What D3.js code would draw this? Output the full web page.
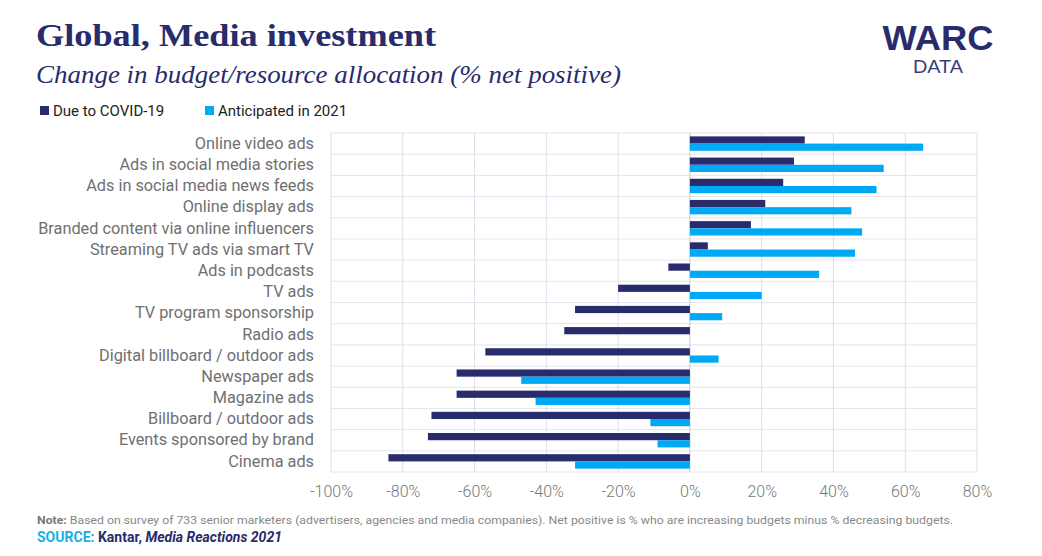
<!DOCTYPE html>
<html>
<head>
<meta charset="utf-8">
<script src="https://cdn.jsdelivr.net/npm/d3@7"></script>
<style>
  html, body { margin: 0; padding: 0; background: #fff; }
  svg { display: block; }
</style>
</head>
<body>
<svg id="chart" width="1042" height="556"></svg>
<script>
const categories = [
  "Online video ads",
  "Ads in social media stories",
  "Ads in social media news feeds",
  "Online display ads",
  "Branded content via online influencers",
  "Streaming TV ads via smart TV",
  "Ads in podcasts",
  "TV ads",
  "TV program sponsorship",
  "Radio ads",
  "Digital billboard / outdoor ads",
  "Newspaper ads",
  "Magazine ads",
  "Billboard / outdoor ads",
  "Events sponsored by brand",
  "Cinema ads"
];
const covidValues = [32, 29, 26, 21, 17, 5, -6, -20, -32, -35, -57, -65, -65, -72, -73, -84];
const anticipatedValues = [65, 54, 52, 45, 48, 46, 36, 20, 9, 0, 8, -47, -43, -11, -9, -32];
const seriesNames = ["Due to COVID-19", "Anticipated in 2021"];
const tickValues = [-100, -80, -60, -40, -20, 0, 20, 40, 60, 80];

const NAVY = "#282b6c";
const BLUE = "#00a9f4";
const colors = [NAVY, BLUE];

const svg = d3.select("#chart");

const x = d3.scaleLinear().domain([-100, 80]).range([331, 977]);
const y = d3.scaleBand().domain(categories).range([133, 472]).paddingInner(0.32).paddingOuter(0.16);
const ySub = d3.scaleBand().domain(seriesNames).range([0, y.bandwidth()]);
const yRow = d3.scaleBand().domain(categories).range([133, 472]);

const grid = svg.append("g");
grid.selectAll("line.h")
  .data(categories.concat(["__end"]))
  .join("line")
  .attr("x1", x(-100)).attr("x2", x(80))
  .attr("y1", (d, i) => i < categories.length ? yRow(d) : yRow.range()[1])
  .attr("y2", (d, i) => i < categories.length ? yRow(d) : yRow.range()[1])
  .attr("stroke", "#e4e4ee").attr("stroke-width", 1);
grid.selectAll("line.v")
  .data(tickValues)
  .join("line")
  .attr("x1", d => x(d)).attr("x2", d => x(d))
  .attr("y1", 133).attr("y2", 472)
  .attr("stroke", d => d === 0 ? "#c8c8d0" : "#dedeea").attr("stroke-width", 1);

const series = [covidValues, anticipatedValues];
series.forEach((vals, si) => {
  svg.append("g").selectAll("rect")
    .data(vals)
    .join("rect")
    .attr("x", d => x(Math.min(0, d)))
    .attr("width", d => Math.abs(x(d) - x(0)))
    .attr("y", (d, i) => y(categories[i]) + ySub(seriesNames[si]))
    .attr("height", ySub.bandwidth())
    .attr("fill", colors[si]);
});

const yAxis = d3.axisLeft(yRow).tickSize(0).tickPadding(17);
const yG = svg.append("g").attr("transform", `translate(${x(-100)},0)`).call(yAxis);
yG.select(".domain").remove();
yG.selectAll("text")
  .attr("font-family", "Roboto, 'Noto Sans', sans-serif")
  .attr("font-size", "16.3px")
  .attr("fill", "#707070");

const xAxis = d3.axisBottom(x).tickValues(tickValues).tickSize(0).tickPadding(14)
  .tickFormat(d => d + "%");
const xG = svg.append("g").attr("transform", `translate(0,${472})`).call(xAxis);
xG.select(".domain").remove();
xG.selectAll("text")
  .attr("font-family", "Roboto, sans-serif")
  .attr("font-weight", 300)
  .attr("font-size", "16px")
  .attr("fill", "#777");

svg.append("text")
  .attr("x", 36).attr("y", 46)
  .attr("font-family", "'Liberation Serif', 'DejaVu Serif', serif")
  .attr("font-weight", "bold")
  .attr("font-size", "32px")
  .attr("fill", NAVY)
  .attr("textLength", 400).attr("lengthAdjust", "spacingAndGlyphs")
  .text("Global, Media investment");

svg.append("text")
  .attr("x", 36).attr("y", 83)
  .attr("font-family", "'Liberation Serif', 'DejaVu Serif', serif")
  .attr("font-style", "italic")
  .attr("font-size", "26px")
  .attr("fill", NAVY)
  .attr("textLength", 585).attr("lengthAdjust", "spacingAndGlyphs")
  .text("Change in budget/resource allocation (% net positive)");

const legendX = [40, 205];
seriesNames.forEach((name, i) => {
  const g = svg.append("g").attr("transform", `translate(${legendX[i]},104)`);
  g.append("rect").attr("x", 0).attr("y", 2).attr("width", 9).attr("height", 9).attr("fill", colors[i]);
  g.append("text").attr("x", 13).attr("y", 11.5)
    .attr("font-family", "Roboto, sans-serif")
    .attr("font-size", "15px")
    .attr("fill", "#222")
    .text(name);
});

svg.append("text")
  .attr("x", 938).attr("y", 50)
  .attr("text-anchor", "middle")
  .attr("font-family", "'Liberation Sans', Arial, sans-serif")
  .attr("font-weight", "bold")
  .attr("font-size", "35px")
  .attr("fill", NAVY)
  .attr("textLength", 111).attr("lengthAdjust", "spacingAndGlyphs")
  .text("WARC");
svg.append("text")
  .attr("x", 938).attr("y", 72.5)
  .attr("text-anchor", "middle")
  .attr("font-family", "'Liberation Sans', Arial, sans-serif")
  .attr("font-size", "18px")
  .attr("fill", "#3b3e76")
  .attr("textLength", 50).attr("lengthAdjust", "spacingAndGlyphs")
  .text("DATA");

const note = svg.append("text")
  .attr("x", 37).attr("y", 524)
  .attr("font-family", "Roboto, sans-serif")
  .attr("font-size", "11.5px")
  .attr("fill", "#888")
  .attr("textLength", 916).attr("lengthAdjust", "spacingAndGlyphs");
note.append("tspan").attr("font-weight", "bold").attr("fill", "#777").text("Note:");
note.append("tspan").text(" Based on survey of 733 senior marketers (advertisers, agencies and media companies). Net positive is % who are increasing budgets minus % decreasing budgets.");

const src = svg.append("text")
  .attr("x", 37).attr("y", 542)
  .attr("font-family", "Roboto, sans-serif")
  .attr("font-size", "14px")
  .attr("font-weight", "bold");
src.append("tspan").attr("fill", "#1aaee8").text("SOURCE:");
src.append("tspan").attr("fill", NAVY).text(" Kantar, ");
src.append("tspan").attr("fill", NAVY).attr("font-style", "italic").text("Media Reactions 2021");
</script>
</body>
</html>
